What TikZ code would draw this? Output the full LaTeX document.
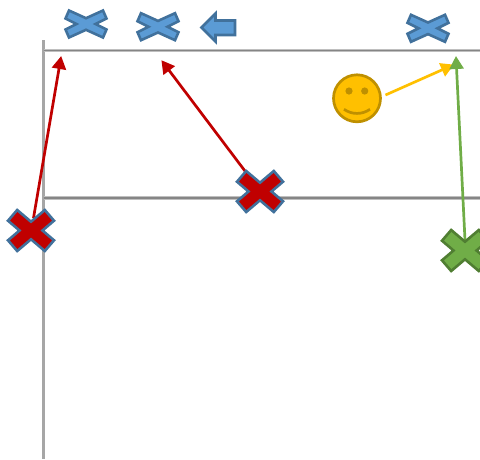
\documentclass[tikz,border=0pt]{standalone}
\usetikzlibrary{arrows.meta,calc}
\definecolor{bluefill}{HTML}{5B9BD5}
\definecolor{blueedge}{HTML}{41719C}
\definecolor{redfill}{HTML}{C00000}
\definecolor{greenfill}{HTML}{70AD47}
\definecolor{greenedge}{HTML}{507E32}
\definecolor{yellowfill}{HTML}{FFC000}
\definecolor{yellowedge}{HTML}{BF9000}
\tikzset{
  gridsoft/.style={draw=black!25,line width=3.8pt},
  gridcore/.style={draw=black!48,line width=1.8pt},
  pointer/.style={line width=2.7pt,-{Triangle[length=13pt,width=14pt]},shorten >=-1pt},
  bluemark/.style={fill=bluefill,draw=blueedge,line width=2.6pt,line join=miter},
  redmark/.style={fill=redfill,draw=blueedge,line width=2.6pt,line join=miter},
  greenmark/.style={fill=greenfill,draw=greenedge,line width=2.6pt,line join=miter},
}
\newcommand{\flatcross}[2][]{%
  \draw[#1] ($(#2)+(-17,-13.5)$)--($(#2)+(0,-5.8)$)--($(#2)+(17,-13.5)$)--($(#2)+(20.5,-5.5)$)--($(#2)+(9.5,0)$)--($(#2)+(20.5,5.5)$)--($(#2)+(17,13.5)$)--($(#2)+(0,5.8)$)--($(#2)+(-17,13.5)$)--($(#2)+(-20.5,5.5)$)--($(#2)+(-9.5,0)$)--($(#2)+(-20.5,-5.5)$)--cycle;}
\newcommand{\fatcross}[2][]{%
  \draw[#1] ($(#2)+(-13.8,-20.5)$)--($(#2)+(0,-8.8)$)--($(#2)+(13.8,-20.5)$)--($(#2)+(23,-9.8)$)--($(#2)+(11.5,0)$)--($(#2)+(23,9.8)$)--($(#2)+(13.8,20.5)$)--($(#2)+(0,8.8)$)--($(#2)+(-13.8,20.5)$)--($(#2)+(-23,9.8)$)--($(#2)+(-11.5,0)$)--($(#2)+(-23,-9.8)$)--cycle;}
\begin{document}
\begin{tikzpicture}[x=1pt,y=-1pt]
\useasboundingbox (0,0) rectangle (480,459);
\clip (0,0) rectangle (480,459);
% grid
\coordinate (vtop) at (43.5,40);
\coordinate (vbot) at (43.5,459);
\coordinate (h1l) at (43.5,50.5);
\coordinate (h1r) at (480,50.5);
\coordinate (h2l) at (43.5,198.3);
\coordinate (h2r) at (480,198.3);
\draw[draw=black!35,line width=3.4pt] (vtop)--(vbot);
\draw[gridsoft] (h1l)--(h1r);
\draw[gridcore] (h1l)--(h1r);
\draw[gridsoft] (h2l)--(h2r);
\draw[gridcore] (h2l)--(h2r);
% anchors
\coordinate (b1) at (86,24);
\coordinate (b2) at (158,26.7);
\coordinate (b3) at (428,28.3);
\coordinate (r1) at (31,230.5);
\coordinate (r2) at (260,191.5);
\coordinate (g1) at (465,250.5);
\coordinate (s1) at (357,98.3);
\coordinate (r1end) at (33.5,218);
\coordinate (r1tip) at (61,57);
\coordinate (r2end) at (251,179);
\coordinate (r2tip) at (162,61);
\coordinate (y1end) at (385.5,95);
\coordinate (y1tip) at (453,65);
\coordinate (g1end) at (465,240);
\coordinate (g1tip) at (456,57);
% blue marks
\flatcross[bluemark]{b1}
\flatcross[bluemark]{b2}
\flatcross[bluemark]{b3}
\draw[bluemark,line width=2.6pt] (201.5,27.5)--(215.5,13.5)--(215.5,20.5)--(235,20.5)--(235,35)--(215.5,35)--(215.5,41.5)--cycle;
% connectors
\draw[pointer,draw=yellowfill,fill=yellowfill] (y1end)--(y1tip);
\draw[pointer,draw=redfill,fill=redfill] (r1end)--(r1tip);
\draw[pointer,draw=redfill,fill=redfill] (r2end)--(r2tip);
\draw[pointer,draw=greenfill,fill=greenfill] (g1end)--(g1tip);
% big crosses
\fatcross[redmark]{r1}
\fatcross[redmark]{r2}
\fatcross[greenmark]{g1}
% smiley
\node[circle,draw=yellowedge,fill=yellowfill,line width=2.7pt,minimum size=47pt,inner sep=0pt] (face) at (s1) {};
\fill[yellowedge] ($(s1)+(-8,-7.3)$) circle (3.6pt);
\fill[yellowedge] ($(s1)+(7.7,-7.3)$) circle (3.6pt);
\draw[yellowedge,line width=2.7pt] ($(s1)+(-13,11)$) .. controls ($(s1)+(-5,16.5)$) and ($(s1)+(5,16.5)$) .. ($(s1)+(13,11)$);
\end{tikzpicture}
\end{document}
